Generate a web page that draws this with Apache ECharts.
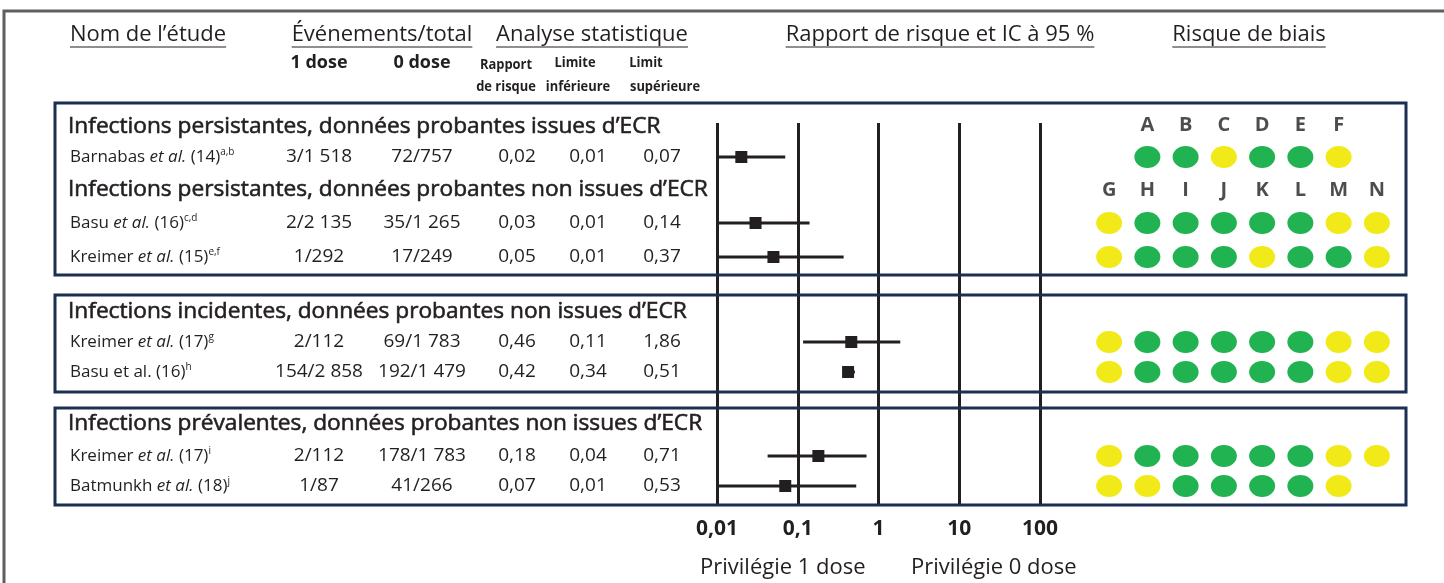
<!DOCTYPE html>
<html><head><meta charset="utf-8">
<script src="https://cdn.jsdelivr.net/npm/echarts@6/dist/echarts.min.js"></script>
<style>html,body{margin:0;padding:0;background:#fff}#c{width:1444px;height:583px}</style>
</head><body><div id="c"></div>
<script>
// ---------- DATA ----------
const groupTitles = [
  'Infections persistantes, données probantes issues d’ECR',
  'Infections persistantes, données probantes non issues d’ECR',
  'Infections incidentes, données probantes non issues d’ECR',
  'Infections prévalentes, données probantes non issues d’ECR'
];
const studyAuthors = ['Barnabas', 'Basu', 'Kreimer', 'Kreimer', 'Basu', 'Kreimer', 'Batmunkh'];
const studyRefs = ['(14)', '(16)', '(15)', '(17)', '(16)', '(17)', '(18)'];
const studyNotes = ['a,b', 'c,d', 'e,f', 'g', 'h', 'i', 'j'];
const events1 = ['3/1 518', '2/2 135', '1/292', '2/112', '154/2 858', '2/112', '1/87'];
const events0 = ['72/757', '35/1 265', '17/249', '69/1 783', '192/1 479', '178/1 783', '41/266'];
const riskRatio = [0.02, 0.03, 0.05, 0.46, 0.42, 0.18, 0.07];
const lowerLimit = [0.01, 0.01, 0.01, 0.11, 0.34, 0.04, 0.01];
const upperLimit = [0.07, 0.14, 0.37, 1.86, 0.51, 0.71, 0.53];
const tickLabels = ['0,01', '0,1', '1', '10', '100'];
const biasColumns = ['G', 'H', 'I', 'J', 'K', 'L', 'M', 'N'];
const biasLettersRCT = ['', 'A', 'B', 'C', 'D', 'E', 'F', ''];
// L = low risk (green), U = unclear (yellow), '' = none
const biasRatings = [
  ['', 'L', 'L', 'U', 'L', 'L', 'U', ''],
  ['U', 'L', 'L', 'L', 'L', 'L', 'U', 'U'],
  ['U', 'L', 'L', 'L', 'U', 'L', 'L', 'U'],
  ['U', 'L', 'L', 'L', 'L', 'L', 'U', 'U'],
  ['U', 'L', 'L', 'L', 'L', 'L', 'U', 'U'],
  ['U', 'L', 'L', 'L', 'L', 'L', 'U', 'U'],
  ['U', 'U', 'L', 'L', 'L', 'L', 'U', '']
];

// ---------- LAYOUT ----------
const INK = '#231f20';
const NAVY = '#1b2f52';
const FF = '"Open Sans", Lato, sans-serif';
const rowY = [157, 223, 257, 342, 372, 456, 486];
const groupY = [127, 190, 312, 424];
const boxes = [[103, 275], [295, 392], [408, 505]];
const letterY = [125, 190];
const colX = { ev1: 319, ev0: 422, rr: 517, lo: 588, hi: 662 };
const plotTop = 123, plotBottom = 505;
const fmt = v => v.toFixed(2).replace('.', ',');

const ctx = document.createElement('canvas').getContext('2d');
function textWidth(t, font) { ctx.font = font; return ctx.measureText(t).width; }

const graphics = [];
graphics.push({ type: 'rect', z: 1, shape: { x: 4, y: 11, width: 1470, height: 600 },
  style: { fill: null, stroke: '#5f5f5f', lineWidth: 3 } });
boxes.forEach(b => graphics.push({ type: 'rect', z: 5, shape: { x: 55, y: b[0], width: 1351, height: b[1] - b[0] },
  style: { fill: null, stroke: NAVY, lineWidth: 3 } }));

function txt(t, x, y, size, weight, align, sx, strokeW) {
  const st = { text: t, font: (weight || 'normal') + ' ' + size + 'px ' + FF, fill: INK,
    textAlign: align || 'left', textVerticalAlign: 'middle' };
  if (strokeW) { st.stroke = INK; st.lineWidth = strokeW; }
  graphics.push({ type: 'text', z: 10, x: x, y: y, scaleX: sx || 1, style: st });
}
const headers = [['Nom de l’étude', 148], ['Événements/total', 382], ['Analyse statistique', 592],
  ['Rapport de risque et IC à 95 %', 940], ['Risque de biais', 1249]];
headers.forEach(h => {
  const f = 'normal 22px ' + FF;
  const w = textWidth(h[0], f);
  txt(h[0], h[1], 35, 22, 'normal', 'center');
  graphics.push({ type: 'line', z: 10, shape: { x1: h[1] - w / 2, y1: 47, x2: h[1] + w / 2, y2: 47 },
    style: { stroke: INK, lineWidth: 1.2 } });
});
txt('1 dose', colX.ev1, 63, 18, 'bold', 'center');
txt('0 dose', colX.ev0, 63, 18, 'bold', 'center');
txt('Rapport', 506, 65, 15, 'bold', 'center', 0.86);
txt('de risque', 506, 87, 15, 'bold', 'center', 0.86);
txt('Limite', 575, 63, 15, 'bold', 'center', 0.86);
txt('inférieure', 578, 87, 15, 'bold', 'center', 0.86);
txt('Limit', 646, 63, 15, 'bold', 'center', 0.86);
txt('supérieure', 665, 87, 15, 'bold', 'center', 0.86);
groupTitles.forEach((g, i) => txt(g, 68, groupY[i], 22.7, 'normal', 'left', 1, 0.6));
studyAuthors.forEach((a, i) => {
  const it = i === 4 ? 'n' : 'i';
  graphics.push({ type: 'text', z: 10, x: 70, y: rowY[i],
    style: {
      text: '{n|' + a + ' }{' + it + '|et al.}{n| ' + studyRefs[i] + '}{s|' + studyNotes[i] + '}',
      textVerticalAlign: 'middle', textAlign: 'left',
      rich: {
        n: { fontFamily: 'Open Sans', fontSize: 17, fill: INK, lineHeight: 20 },
        i: { fontFamily: 'Open Sans', fontSize: 17, fontStyle: 'italic', fill: INK, lineHeight: 20 },
        s: { fontFamily: 'Open Sans', fontSize: 10, fill: INK, lineHeight: 10, verticalAlign: 'top' }
      }
    } });
  txt(events1[i], colX.ev1, rowY[i], 19, 'normal', 'center');
  txt(events0[i], colX.ev0, rowY[i], 19, 'normal', 'center');
  txt(fmt(riskRatio[i]), colX.rr, rowY[i], 19, 'normal', 'center');
  txt(fmt(lowerLimit[i]), colX.lo, rowY[i], 19, 'normal', 'center');
  txt(fmt(upperLimit[i]), colX.hi, rowY[i], 19, 'normal', 'center');
});
txt('Privilégie 1 dose', 700, 568, 22, 'normal', 'left');
txt('Privilégie 0 dose', 911, 568, 22, 'normal', 'left');

// ---------- SERIES DATA ----------
const forestData = riskRatio.map((v, i) => [v, lowerLimit[i], upperLimit[i], rowY[i]]);
const dotData = [];
biasRatings.forEach((row, i) => row.forEach((r, j) => {
  if (r) dotData.push({ value: [j, rowY[i]], itemStyle: { color: r === 'L' ? '#21b251' : '#f2ea18', opacity: 1 } });
}));
const letterData = [];
biasLettersRCT.forEach((l, j) => { if (l) letterData.push({ value: [j, letterY[0]], name: l }); });
biasColumns.forEach((l, j) => letterData.push({ value: [j, letterY[1]], name: l }));

const chart = echarts.init(document.getElementById('c'), null, { renderer: 'canvas' });
chart.setOption({
  animation: false,
  backgroundColor: '#fff',
  grid: [
    { left: 717, width: 323, top: plotTop, height: plotBottom - plotTop },
    { left: 1090, width: 306, top: plotTop, height: plotBottom - plotTop }
  ],
  xAxis: [
    { type: 'log', logBase: 10, min: 0.01, max: 100, gridIndex: 0,
      axisLine: { show: false }, axisTick: { show: false },
      splitLine: { show: true, showMinLine: true, showMaxLine: true, lineStyle: { color: INK, width: 3 } },
      axisLabel: { fontFamily: 'Open Sans', fontWeight: 'bold', fontSize: 21, color: INK, margin: 14,
        formatter: v => tickLabels[Math.round(Math.log10(v)) + 2] } },
    { type: 'category', data: biasColumns, gridIndex: 1, show: false, boundaryGap: true }
  ],
  yAxis: [
    { type: 'value', min: plotTop, max: plotBottom, inverse: true, gridIndex: 0, show: false },
    { type: 'value', min: plotTop, max: plotBottom, inverse: true, gridIndex: 1, show: false }
  ],
  graphic: graphics,
  series: [
    { type: 'custom', xAxisIndex: 0, yAxisIndex: 0, clip: false, z: 8, data: forestData,
      renderItem: (params, api) => {
        const y = api.value(3);
        const pL = api.coord([api.value(1), y]);
        const pH = api.coord([api.value(2), y]);
        const pR = api.coord([api.value(0), y]);
        return { type: 'group', children: [
          { type: 'line', shape: { x1: pL[0] + 2, y1: pL[1], x2: pH[0], y2: pH[1] }, style: { stroke: INK, lineWidth: 3 } },
          { type: 'rect', shape: { x: pR[0] - 6, y: pR[1] - 6, width: 12, height: 12 }, style: { fill: INK } }
        ] };
      } },
    { type: 'scatter', xAxisIndex: 1, yAxisIndex: 1, symbol: 'circle', symbolSize: [26, 22],
      itemStyle: { opacity: 1 }, data: dotData, silent: true },
    { type: 'scatter', xAxisIndex: 1, yAxisIndex: 1, symbolSize: 0, data: letterData,
      label: { show: true, position: 'inside', formatter: p => p.name,
        fontFamily: 'Open Sans', fontWeight: 'bold', fontSize: 20, color: INK } }
  ]
});
</script></body></html>
